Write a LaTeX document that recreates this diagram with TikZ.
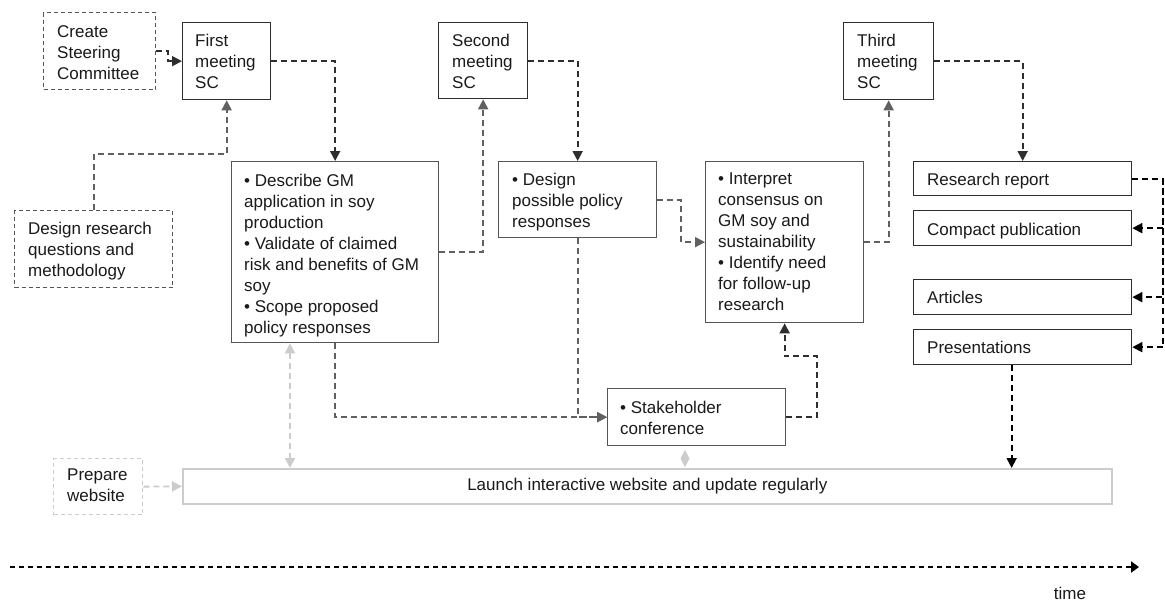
\documentclass[tikz,border=0pt]{standalone}
\usepackage{fontspec}
\setmainfont{Liberation Sans}
\usetikzlibrary{arrows.meta,calc}
\definecolor{cText}{HTML}{1A1A1A}
\definecolor{cDark}{HTML}{2E2E2E}
\definecolor{cMid}{HTML}{555555}
\definecolor{cMidC}{HTML}{606060}
\definecolor{cLight}{HTML}{CCCCCC}
\tikzset{
  bx/.style={rectangle, inner sep=0pt, line width=1.3pt, anchor=north west},
  darkbox/.style={bx, draw=cDark},
  midbox/.style={bx, draw=cMid},
  dashbox/.style={bx, draw=cMid, dash pattern=on 4pt off 3pt},
  lightdashbox/.style={bx, draw=cLight, dash pattern=on 4pt off 3pt},
  lightbox/.style={bx, draw=cLight, line width=1.6pt, font=\fontsize{17}{21}\selectfont, text=cText},
  lbl/.style={anchor=north west, inner sep=0pt, align=left, font=\fontsize{17}{21}\selectfont, text=cText},
  lbls/.style={lbl, anchor=base west},
  conn/.style={line width=1.8pt, dash pattern=on 6pt off 4pt, -{Triangle[length=10pt,width=10pt]}},
  dconn/.style={conn, draw=cDark},
  mconn/.style={conn, draw=cMidC},
  lconn/.style={line width=1.8pt, draw=cLight, dash pattern=on 6pt off 4pt, {Triangle[length=10pt,width=10pt]}-{Triangle[length=10pt,width=10pt]}},
  blkconn/.style={conn, draw=black},
  timearrow/.style={line width=2.6pt, draw=black, dash pattern=on 5pt off 4pt, -{Triangle[length=8pt,width=11pt]}}
}
\begin{document}
\begin{tikzpicture}[x=1pt,y=-1pt]
\useasboundingbox[fill=white] (0,0) rectangle (1165,603);

% boxes
\node[dashbox, minimum width=112pt, minimum height=77pt] (create) at (43,12) {};
\node[darkbox, minimum width=88pt, minimum height=77pt] (first) at (182,22) {};
\node[dashbox, minimum width=158pt, minimum height=77pt] (dres) at (14,210) {};
\node[midbox, minimum width=207pt, minimum height=181pt] (describe) at (231,161) {};
\node[darkbox, minimum width=89pt, minimum height=76pt] (second) at (438,22) {};
\node[midbox, minimum width=158pt, minimum height=76pt] (design) at (498,161) {};
\node[midbox, minimum width=158pt, minimum height=161pt] (interpret) at (705,161) {};
\node[darkbox, minimum width=90pt, minimum height=77pt] (third) at (843,22) {};
\node[darkbox, minimum width=218pt, minimum height=34pt] (report) at (913,161) {};
\node[darkbox, minimum width=218pt, minimum height=35pt] (compact) at (913,210) {};
\node[darkbox, minimum width=218pt, minimum height=35pt] (articles) at (913,279) {};
\node[darkbox, minimum width=218pt, minimum height=35pt] (pres) at (913,329) {};
\node[midbox, minimum width=178pt, minimum height=57pt] (stake) at (607,388) {};
\node[lightbox, minimum width=929pt, minimum height=35pt] (web) at (182,468) {Launch interactive website and update regularly};
\node[lightdashbox, minimum width=89pt, minimum height=56pt] (prep) at (53,458) {};

% texts
\node[lbl] (tcreate) at (57,25) {Create\\Steering\\Committee};
\node[lbl] (tfirst) at (195,34) {First\\meeting\\SC};
\node[lbl] (tdres) at (28,222) {Design research\\questions and\\methodology};
\node[lbl] (tdescribe) at (244,174) {• Describe GM\\application in soy\\production\\• Validate of claimed\\risk and benefits of GM\\soy\\• Scope proposed\\policy responses};
\node[lbl] (tsecond) at (452,34) {Second\\meeting\\SC};
\node[lbl] (tdesign) at (512,173) {• Design\\possible policy\\responses};
\node[lbl] (tinterpret) at (718,173) {• Interpret\\consensus on\\GM soy and\\sustainability\\• Identify need\\for follow-up\\research};
\node[lbl] (tthird) at (857,34) {Third\\meeting\\SC};
\node[lbls] (treport) at (927,185) {Research report};
\node[lbls] (tcompact) at (927,235) {Compact publication};
\node[lbls] (tarticles) at (927,303) {Articles};
\node[lbls] (tpres) at (927,353) {Presentations};
\node[lbl] (tstake) at (620,401) {• Stakeholder\\conference};
\node[lbl] (tprep) at (67,469) {Prepare\\website};

% connectors
\draw[dconn] (create.east) -- ++(12,0) |- (first.west);
\draw[mconn] (dres.north) -- ++(0,-56) -| (first.south);
\draw[dconn] (first.east) -| (describe.north);
\draw[mconn] (describe.east) -| (second.south);
\draw[dconn] (second.east) -| (design.north);
\draw[mconn] (design.east) -- ++(24,0) |- (interpret.west);
\draw[mconn] (interpret.east) -| (third.south);
\draw[dconn] (third.east) -| (report.north);
\draw[mconn] (describe.south) |- (stake.west);
\draw[mconn] (design.south) |- (stake.west);
\coordinate (sk) at ($(interpret.south)+(0,33)$);
\draw[dconn] (stake.east) -- ++(31,0) |- (sk) -- (interpret.south);
\coordinate (rx) at ($(report.east)+(31,0)$);
\draw[blkconn] (report.east) -- (rx) |- (pres.east);
\draw[blkconn] (rx) |- (compact.east);
\draw[blkconn] (rx) |- (articles.east);
\coordinate (ps) at ($(pres.south)+(-11,0)$);
\draw[blkconn] (ps) -- (ps |- web.north);
\coordinate (dd) at ($(describe.south west)+(59,0)$);
\draw[lconn] (dd) -- (dd |- web.north);
\draw[conn, draw=cLight] (prep.east) -- (web.west);
\fill[cLight] (685,450) -- (689.5,458.5) -- (685,467) -- (680.5,458.5) -- cycle;

% time axis
\coordinate (t0) at (10,567);
\coordinate (t1) at (1139,567);
\draw[timearrow] (t0) -- (t1);
\node[lbl, anchor=base] (time) at (1070,599) {time};
\end{tikzpicture}
\end{document}
